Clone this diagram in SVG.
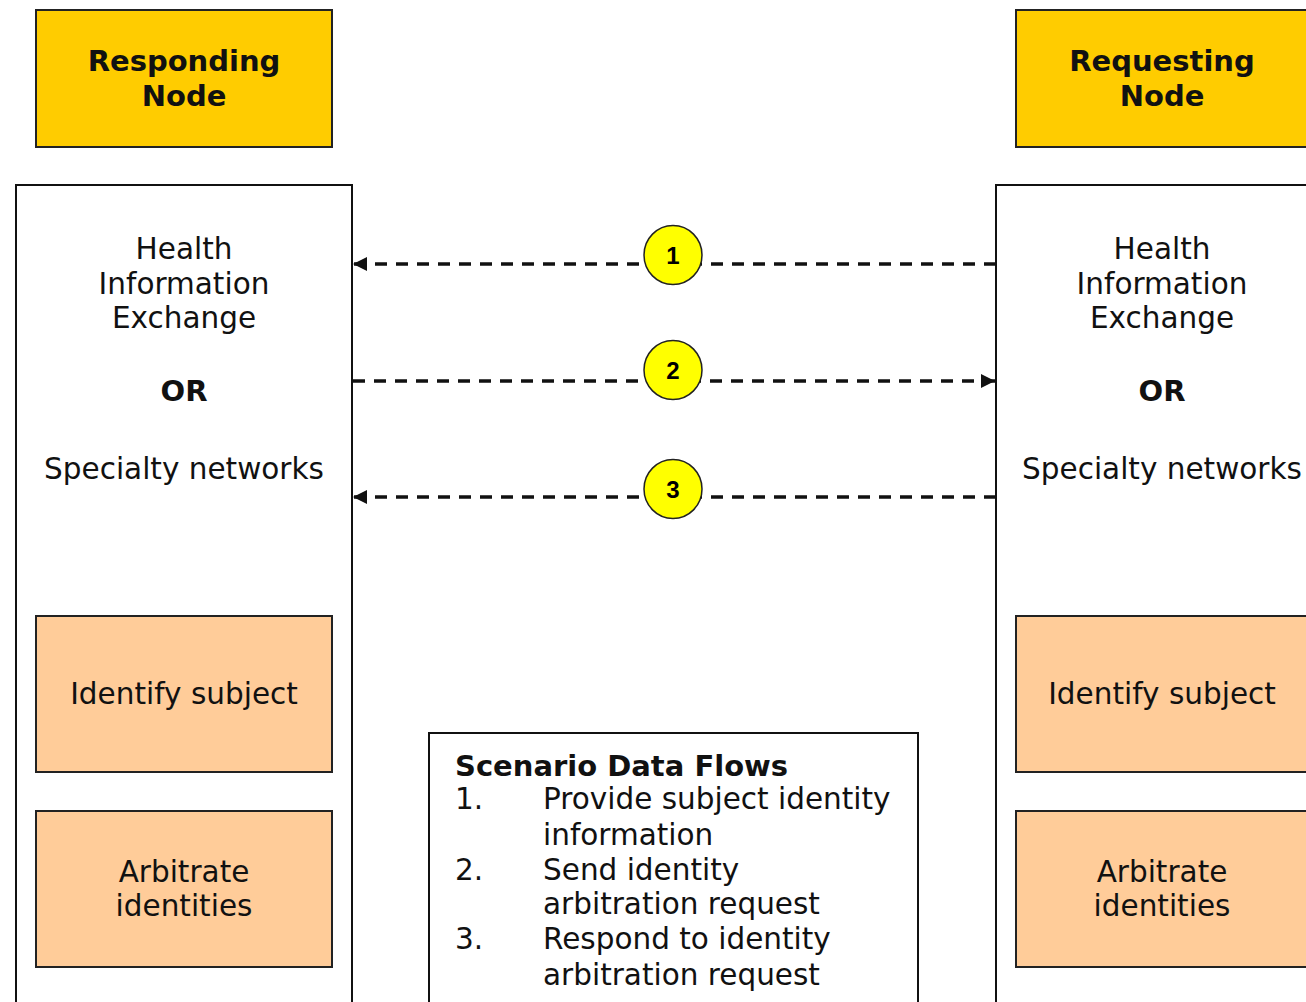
<svg xmlns="http://www.w3.org/2000/svg" width="1306" height="1002" viewBox="0 0 1306 1002">
<defs>
<style>
.t{font-family:"DejaVu Sans",Verdana,sans-serif;font-size:29.5px;fill:#111;text-anchor:middle}
.b{font-weight:bold;font-size:29px}
.lg{font-family:"DejaVu Sans",Verdana,sans-serif;font-size:29.5px;fill:#111}
.lgb{font-weight:bold;font-size:29px}
.num{font-family:"Liberation Sans",Arial,sans-serif;font-size:24px;font-weight:bold;fill:#000;text-anchor:middle}
.hdr{fill:#FFCC00;stroke:#222;stroke-width:2}
.task{fill:#FFCC99;stroke:#222;stroke-width:2}
.sys{fill:#fff;stroke:#111;stroke-width:2}
.flow{stroke:#111;stroke-width:3.5;stroke-dasharray:12 9;fill:none}
.badge{fill:#FFFF00;stroke:#222;stroke-width:1.5}
</style>
<marker id="ah" viewBox="0 0 14 14" refX="14" refY="7" markerWidth="14" markerHeight="14" orient="auto" markerUnits="userSpaceOnUse">
<path d="M0,0 L14,7 L0,14 z" fill="#111"/>
</marker>
</defs>
<rect width="1306" height="1002" fill="#fff"/>
<g id="responding-node">
<rect class="hdr" x="36" y="10" width="296" height="137"/>
<text class="t b" x="184" y="71">Responding</text>
<text class="t b" x="184" y="106">Node</text>
</g>
<g id="requesting-node">
<rect class="hdr" x="1016" y="10" width="300" height="137"/>
<text class="t b" x="1162" y="71">Requesting</text>
<text class="t b" x="1162" y="106">Node</text>
</g>
<g id="left-system">
<rect class="sys" x="16" y="185" width="336" height="830"/>
<text class="t" x="184" y="259">Health</text>
<text class="t" x="184" y="294">Information</text>
<text class="t" x="184" y="328">Exchange</text>
<text class="t b" x="184" y="401">OR</text>
<text class="t" x="184" y="479">Specialty networks</text>
</g>
<g id="right-system">
<rect class="sys" x="996" y="185" width="330" height="830"/>
<text class="t" x="1162" y="259">Health</text>
<text class="t" x="1162" y="294">Information</text>
<text class="t" x="1162" y="328">Exchange</text>
<text class="t b" x="1162" y="401">OR</text>
<text class="t" x="1162" y="479">Specialty networks</text>
</g>
<g id="left-identify">
<rect class="task" x="36" y="616" width="296" height="156"/>
<text class="t" x="184" y="704">Identify subject</text>
</g>
<g id="left-arbitrate">
<rect class="task" x="36" y="811" width="296" height="156"/>
<text class="t" x="184" y="882">Arbitrate</text>
<text class="t" x="184" y="916">identities</text>
</g>
<g id="right-identify">
<rect class="task" x="1016" y="616" width="300" height="156"/>
<text class="t" x="1162" y="704">Identify subject</text>
</g>
<g id="right-arbitrate">
<rect class="task" x="1016" y="811" width="300" height="156"/>
<text class="t" x="1162" y="882">Arbitrate</text>
<text class="t" x="1162" y="916">identities</text>
</g>
<g id="connectors">
<line class="flow" x1="996" y1="264" x2="353" y2="264" marker-end="url(#ah)"/>
<line class="flow" x1="353" y1="381" x2="995" y2="381" marker-end="url(#ah)"/>
<line class="flow" x1="996" y1="497" x2="353" y2="497" marker-end="url(#ah)"/>
</g>
<g id="badge-1">
<ellipse class="badge" cx="673" cy="255" rx="29" ry="29.5"/>
<text class="num" x="673" y="264">1</text>
</g>
<g id="badge-2">
<ellipse class="badge" cx="673" cy="370" rx="29" ry="29.5"/>
<text class="num" x="673" y="379">2</text>
</g>
<g id="badge-3">
<ellipse class="badge" cx="673" cy="489" rx="29" ry="29.5"/>
<text class="num" x="673" y="498">3</text>
</g>
<g id="legend">
<rect class="sys" x="429" y="733" width="489" height="300"/>
<text class="lg lgb" x="455" y="776">Scenario Data Flows</text>
<text class="lg" x="455" y="809">1.</text>
<text class="lg" x="543" y="809">Provide subject identity</text>
<text class="lg" x="543" y="845">information</text>
<text class="lg" x="455" y="880">2.</text>
<text class="lg" x="543" y="880">Send identity</text>
<text class="lg" x="543" y="914">arbitration request</text>
<text class="lg" x="455" y="949">3.</text>
<text class="lg" x="543" y="949">Respond to identity</text>
<text class="lg" x="543" y="985">arbitration request</text>
</g>
</svg>
